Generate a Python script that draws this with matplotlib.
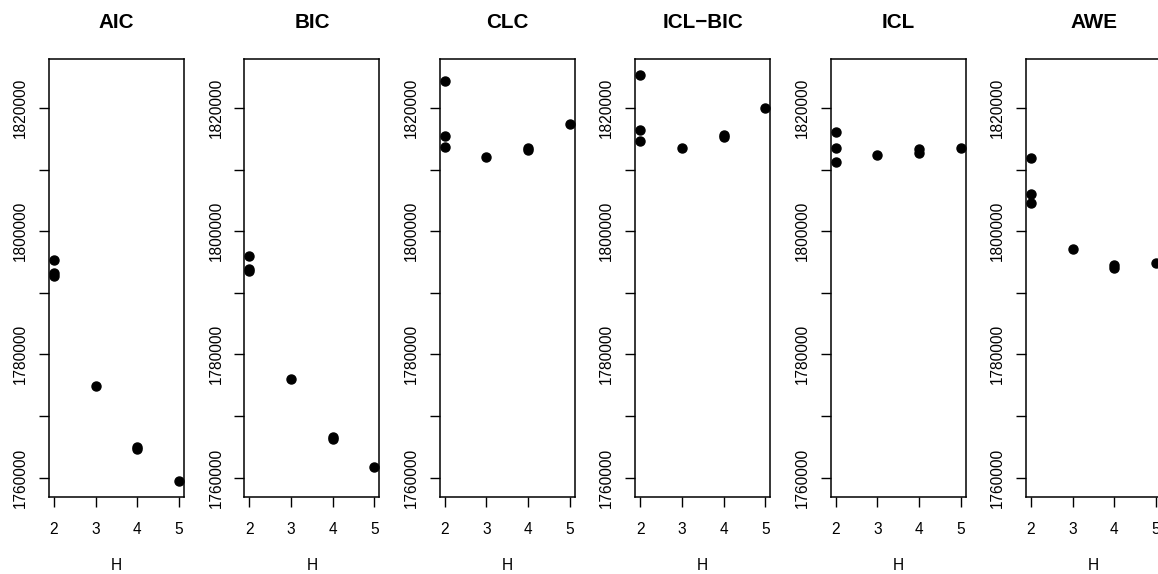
import matplotlib
matplotlib.use("Agg")
import matplotlib.pyplot as plt
import numpy as np

plt.rcParams['font.family'] = ['Liberation Sans', 'DejaVu Sans']

# criteria values per number of groups H (several runs per H)
criteria = ["AIC", "BIC", "CLC", "ICL\u2212BIC", "ICL", "AWE"]
H = [2, 2, 2, 3, 4, 4, 5]

aic = [1795300, 1793200, 1792800, 1774800, 1765000, 1764700, 1759500]
bic = [1796000, 1793900, 1793500, 1776000, 1766600, 1766300, 1761700]
clc = [1824400, 1815500, 1813700, 1812000, 1813500, 1813200, 1817400]
icl_bic = [1825300, 1816400, 1814600, 1813500, 1815600, 1815300, 1820050]
icl = [1816100, 1813500, 1811250, 1812300, 1813250, 1812600, 1813550]
awe = [1811850, 1806100, 1804550, 1797050, 1794500, 1793950, 1794800]

values = [aic, bic, clc, icl_bic, icl, awe]

yticks = [1760000, 1770000, 1780000, 1790000, 1800000, 1810000, 1820000]
ylabels = ["1760000", "", "1780000", "", "1800000", "", "1820000"]

lo = min(min(v) for v in values)
hi = max(max(v) for v in values)
pad = 0.04 * (hi - lo)

W, Hpx = 1158, 574
fig = plt.figure(figsize=(W / 100, Hpx / 100), dpi=100)

for i, (name, vals) in enumerate(zip(criteria, values)):
    left = (49 + 195.4 * i) / W
    ax = fig.add_axes([left, 77 / Hpx, 135 / W, 438 / Hpx])
    ax.plot(H, vals, 'o', color='black', markersize=6.5)
    ax.set_xlim(1.88, 5.12)
    ax.set_ylim(lo - pad, hi + pad)
    ax.set_xticks([2, 3, 4, 5])
    ax.set_yticks(yticks)
    ax.set_yticklabels(ylabels, rotation=90, va='center')
    ax.tick_params(direction='out', length=7, width=1, labelsize=11.2, pad=8)
    ax.tick_params(axis='x', pad=11)
    for s in ax.spines.values():
        s.set_linewidth(1.1)
    ax.set_title(name, fontsize=14.9, fontweight='bold', pad=22)
    ax.set_xlabel("H", fontsize=11.2, labelpad=15)

fig.savefig("out.png", dpi=100)
